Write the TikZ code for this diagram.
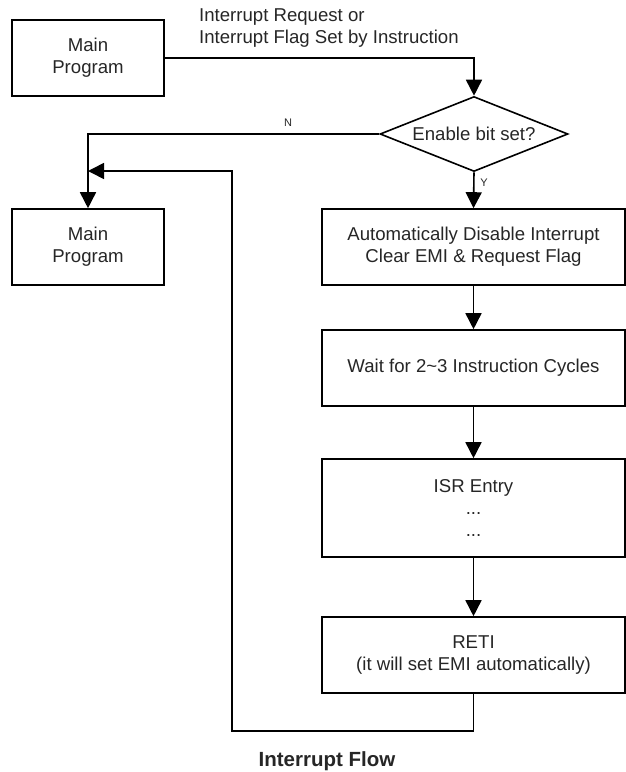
\documentclass[tikz,border=0pt]{standalone}
\usepackage{fontspec}
\setmainfont{Liberation Sans}
\usetikzlibrary{arrows.meta,shapes.geometric}
\begin{document}
\begin{tikzpicture}[x=1pt,y=-1pt,
  txt/.style={font=\fontsize{18.6pt}{22pt}\selectfont, text=black!85},
  box/.style={txt, draw=black, line width=1.6pt, inner sep=0pt, align=center,
    minimum height=76pt},
  lbox/.style={box, minimum width=152pt},
  rbox/.style={box, minimum width=303pt},
  conn/.style={line width=1.6pt, draw=black},
  arr/.style={conn, -{Triangle[length=16pt,width=16pt]}},
  yn/.style={font=\fontsize{11pt}{13pt}\selectfont, text=black!85, inner sep=0pt}
]
\useasboundingbox (0,0) rectangle (626,772);
\node[lbox] (mp1) at (88,58) {Main\\Program};
\node[txt, anchor=west, align=left, inner sep=0pt] (lbl) at (199,28)
  {Interrupt Request or\\Interrupt Flag Set by Instruction};
\node[txt, diamond, draw=black, line width=1.6pt, inner sep=0pt, aspect=2.5,
  minimum width=188pt, minimum height=75pt] (dec) at (474,134) {Enable bit set?};
\node[lbox] (mp2) at (88,247) {Main\\Program};
\node[rbox] (auto) at (473.5,247) {Automatically Disable Interrupt\\Clear EMI \& Request Flag};
\node[rbox] (wait) at (473.5,368) {Wait for 2\textasciitilde 3 Instruction Cycles};
\node[rbox, minimum height=98pt] (isr) at (473.5,508) {ISR Entry\\...\\...};
\node[rbox] (reti) at (473.5,655) {RETI\\(it will set EMI automatically)};
\node[yn] (nlab) at (288,123) {N};
\node[yn] (ylab) at (484,183) {Y};
\node[font=\fontsize{20.5pt}{24pt}\selectfont\bfseries, text=black!85, anchor=base, inner sep=0pt]
  (title) at (327,766.5) {Interrupt Flow};

\coordinate (fb1) at (232,731);
\coordinate (fbc) at (232,171);
\coordinate (fbj) at (88,171);

\draw[arr] (mp1.east) -| (dec.north);
\draw[arr] (dec.west) -| (mp2.north);
\draw[arr] (dec.south) -- (auto.north);
\draw[arr] (auto.south) -- (wait.north);
\draw[arr] (wait.south) -- (isr.north);
\draw[arr] (isr.south) -- (reti.south |- reti.north);
\draw[arr] (reti.south) |- (fb1) -- (fbc) -- (fbj);
\end{tikzpicture}
\end{document}
